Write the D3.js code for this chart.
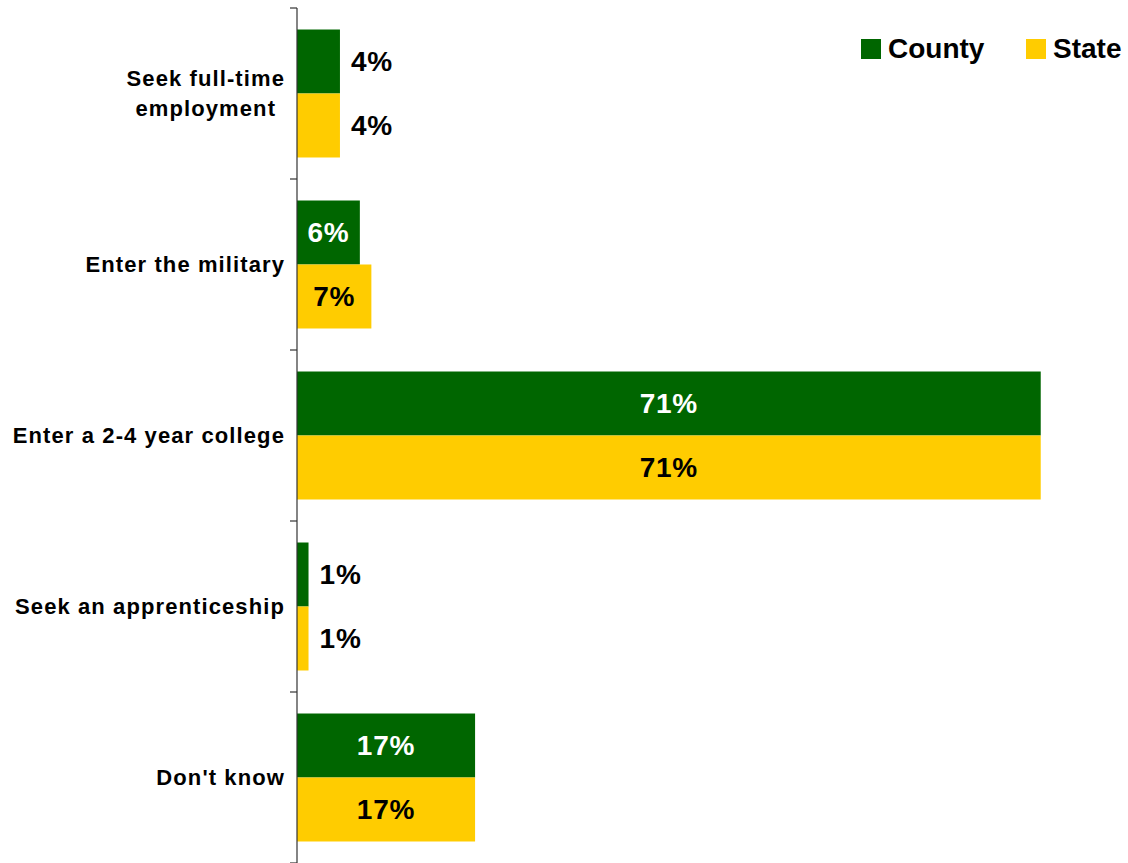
<!DOCTYPE html>
<html>
<head>
<meta charset="utf-8">
<script src="https://cdn.jsdelivr.net/npm/d3@7"></script>
<style>
  html, body { margin: 0; padding: 0; background: #fff; }
  svg { display: block; font-family: "Liberation Sans", Arial, sans-serif; font-weight: bold; }
</style>
</head>
<body>
<svg id="chart" width="1128" height="863"></svg>
<script>
const categories = [
  ["Seek full-time", "employment"],
  ["Enter the military"],
  ["Enter a 2-4 year college"],
  ["Seek an apprenticeship"],
  ["Don't know"]
];
const seriesNames = ["County", "State"];
const countyValues = [4.1, 6.0, 71.0, 1.1, 17.0];
const stateValues = [4.1, 7.1, 71.0, 1.1, 17.0];
const colors = ["#006600", "#FFCC00"];
const xDomain = [0, 80];

const svg = d3.select("#chart");
const catKeys = categories.map(c => c.join(" "));

const x = d3.scaleLinear().domain(xDomain).range([297, 297 + 80 * 10.475]);
const y = d3.scaleBand().domain(catKeys).range([8, 863]).padding(0);
const ySub = d3.scaleBand().domain(seriesNames).range([0, y.bandwidth()])
  .paddingInner(0).paddingOuter(0.336);

const data = [];
catKeys.forEach((k, i) => {
  data.push({cat: k, series: "County", value: countyValues[i], color: colors[0], inside: "#fff"});
  data.push({cat: k, series: "State", value: stateValues[i], color: colors[1], inside: "#000"});
});

// bars
svg.append("g").selectAll("rect").data(data).join("rect")
  .attr("x", x(0))
  .attr("y", d => y(d.cat) + ySub(d.series))
  .attr("width", d => x(d.value) - x(0))
  .attr("height", ySub.bandwidth())
  .attr("fill", d => d.color);

// value labels
svg.append("g").selectAll("text").data(data).join("text")
  .attr("font-size", 28)
  .attr("letter-spacing", "0.8px")
  .attr("dy", "0.35em")
  .attr("y", d => y(d.cat) + ySub(d.series) + ySub.bandwidth() / 2)
  .each(function(d) {
    const w = x(d.value) - x(0);
    const t = d3.select(this);
    if (w > 50) {
      t.attr("x", (x(0) + x(d.value)) / 2).attr("text-anchor", "middle").attr("fill", d.inside);
    } else {
      t.attr("x", x(d.value) + 11).attr("text-anchor", "start").attr("fill", "#000");
    }
  })
  .text(d => Math.round(d.value) + "%");

// axis
const axis = svg.append("g");
axis.append("line")
  .attr("x1", x(0)).attr("x2", x(0))
  .attr("y1", 8).attr("y2", 863)
  .attr("stroke", "#333").attr("stroke-width", 1.2);
const tickYs = catKeys.map(k => y(k)).concat([y.range()[1]]);
axis.selectAll(".tick").data(tickYs).join("line")
  .attr("x1", x(0) - 7).attr("x2", x(0))
  .attr("y1", d => d).attr("y2", d => d)
  .attr("stroke", "#333").attr("stroke-width", 1.2);

// category labels
const labelRight = 285;
const lg = svg.append("g");
categories.forEach((lines, i) => {
  const cy = y(catKeys[i]) + y.bandwidth() / 2;
  const g = lg.append("g");
  const texts = lines.map((ln, j) => g.append("text")
    .attr("font-size", 22)
    .attr("letter-spacing", "1.1px")
    .attr("dy", "0.35em")
    .attr("y", cy + (j - (lines.length - 1) / 2) * 30)
    .text(ln));
  const widths = texts.map(t => t.node().getComputedTextLength());
  const maxW = d3.max(widths);
  const cx = labelRight - maxW / 2;
  texts.forEach(t => t.attr("x", cx).attr("text-anchor", "middle"));
});

// legend
const legend = svg.append("g");
const legendX = [861, 1026];
seriesNames.forEach((s, i) => {
  legend.append("rect").attr("x", legendX[i]).attr("y", 39).attr("width", 20).attr("height", 20).attr("fill", colors[i]);
  legend.append("text").attr("x", legendX[i] + 27).attr("y", 58).attr("font-size", 28).text(s);
});
</script>
</body>
</html>
